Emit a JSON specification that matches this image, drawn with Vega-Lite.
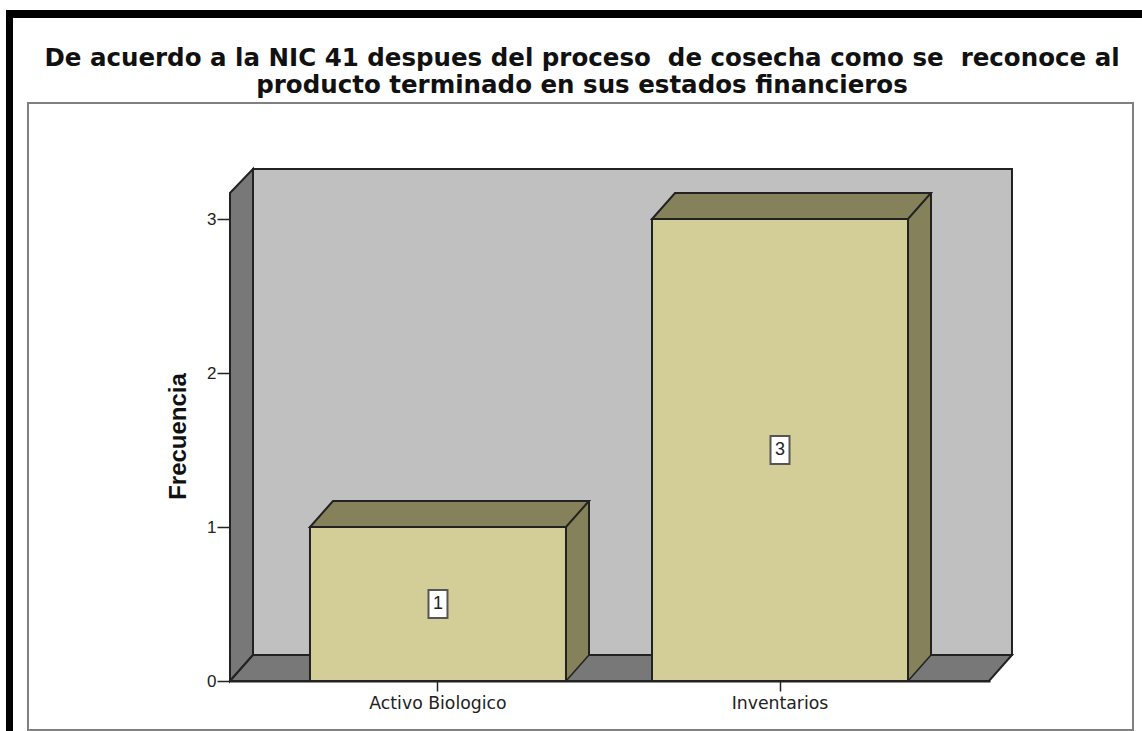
{
"$schema":"https://vega.github.io/schema/vega-lite/v6.json",
"width":760,"height":512,
"autosize":{"type":"none"},
"padding":{"left":230,"top":169,"right":152,"bottom":50},
"background":"white",
"view":{"stroke":null},
"config":{"font":"Liberation Sans"},
"title":{"text":["De acuerdo a la NIC 41 despues del proceso \u00a0de cosecha como se \u00a0reconoce al","producto terminado en sus estados financieros"],"font":"DejaVu Sans","fontSize":24.5,"fontWeight":"bold","color":"#111111","anchor":"middle","dx":-28,"offset":-88,"lineHeight":27},
"data":{"values":[{"categoria":"Activo Biologico","frecuencia":1},{"categoria":"Inventarios","frecuencia":3}]},
"transform":[{"calculate":"datum.frecuencia/2","as":"mitad"}],
"encoding":{
"x":{"field":"categoria","type":"nominal","sort":null,"title":null,
"scale":{"paddingInner":0.2515,"paddingOuter":0.2368,"align":0.4938},
"axis":{"labelAngle":0,"labelFont":"DejaVu Sans","labelFontSize":17.3,"labelColor":"#222222","labelPadding":3,"tickSize":10,"tickColor":"#222222","tickWidth":1.5,"domainColor":"#222222","domainWidth":2}},
"y":{"field":"frecuencia","type":"quantitative","title":"Frecuencia",
"scale":{"domain":[0,3.3247],"nice":false,"zero":true},
"axis":{"values":[0,1,2,3],"format":"d","grid":false,"domain":false,"labelFontSize":17,"labelColor":"#222222","labelPadding":1,"tickSize":13,"tickColor":"#222222","tickWidth":1.5,"titleFontSize":24,"titleFontWeight":"bold","titleColor":"#111111","titleX":-40,"titleY":267}}
},
"layer":[
{"transform":[{"filter":"datum.categoria === 'Activo Biologico'"}],"mark":{"type":"point","size":4,"filled":true,"opacity":1,"fill":"#000000","shape":"M-432,-671 L704,-671 L704,-663 L-425,-663 L-425,50 L-432,50 Z"},
"encoding":{"y":{"datum":0}}},
{"transform":[{"filter":"datum.categoria === 'Activo Biologico'"}],"mark":{"type":"point","size":4,"filled":false,"opacity":1,"stroke":"#808080","strokeWidth":2,"shape":"M-410,-578 L695,-578 L695,49 L-410,49 Z"},
"encoding":{"y":{"datum":0}}},
{"transform":[{"filter":"datum.categoria === 'Activo Biologico'"}],"mark":{"type":"point","size":4,"filled":true,"opacity":1,"fill":"#c0c0c0","stroke":"#222222","strokeWidth":2,"shape":"M-185,-512 L574,-512 L574,-26 L-185,-26 Z"},
"encoding":{"y":{"datum":0}}},
{"transform":[{"filter":"datum.categoria === 'Activo Biologico'"}],"mark":{"type":"point","size":4,"filled":true,"opacity":1,"fill":"#787878","stroke":"#222222","strokeWidth":2,"shape":"M-208,0 L-185,-26 L-185,-512 L-208,-488 Z"},
"encoding":{"y":{"datum":0}}},
{"transform":[{"filter":"datum.categoria === 'Activo Biologico'"}],"mark":{"type":"point","size":4,"filled":true,"opacity":1,"fill":"#787878","stroke":"#222222","strokeWidth":2,"shape":"M-208,0 L-185,-26 L574,-26 L551,0 Z"},
"encoding":{"y":{"datum":0}}},
{"mark":{"type":"rule","strokeWidth":23,"color":"#85815a","xOffset":139.5,"yOffset":-26,"y2Offset":-26},
"encoding":{"y2":{"datum":0}}},
{"mark":{"type":"point","size":4,"filled":true,"opacity":1,"fill":"#85815a","shape":"M128,0 L151,-26 L128,-26 Z"},
"encoding":{"y":{"datum":0}}},
{"mark":{"type":"point","size":4,"filled":false,"opacity":1,"stroke":"#222222","strokeWidth":1.5,"shape":"M128,0 L151,-26"},
"encoding":{"y":{"datum":0}}},
{"mark":{"type":"rule","strokeWidth":2,"color":"#222222","xOffset":151,"yOffset":-26,"y2Offset":-26},
"encoding":{"y2":{"datum":0}}},
{"mark":{"type":"point","size":4,"filled":true,"opacity":1,"fill":"#85815a","stroke":"#222222","strokeWidth":2,"shape":"M-128,0 L128,0 L151,-26 L-105,-26 Z"}},
{"mark":{"type":"bar","fill":"#d3ce98","stroke":"#222222","strokeWidth":2}},
{"mark":{"type":"point","size":4,"filled":true,"opacity":1,"fill":"#ffffff","stroke":"#555555","strokeWidth":2,"shape":"M-9.5,-14 L9.5,-14 L9.5,14 L-9.5,14 Z"},
"encoding":{"y":{"field":"mitad","type":"quantitative"}}},
{"mark":{"type":"text","fontSize":18,"color":"#222222","baseline":"middle","align":"center"},
"encoding":{"y":{"field":"mitad","type":"quantitative"},"text":{"field":"frecuencia","type":"quantitative"}}}
]
}
